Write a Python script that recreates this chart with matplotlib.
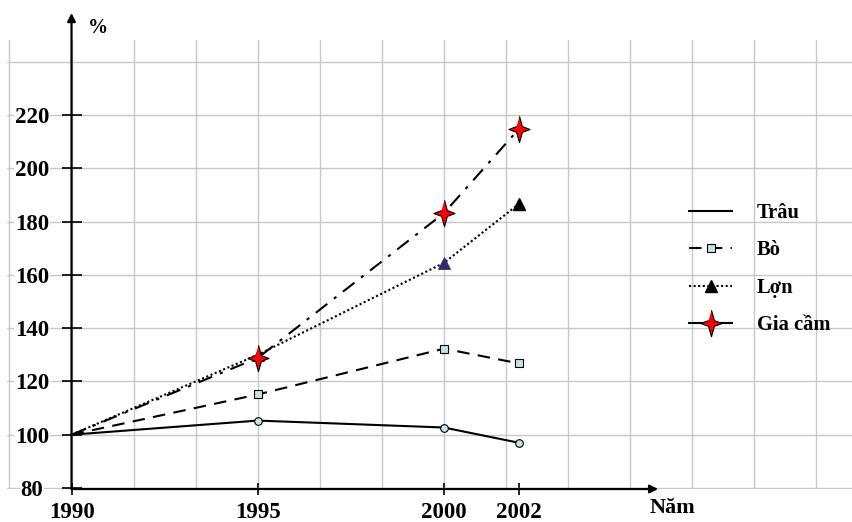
import matplotlib
matplotlib.use("Agg")
import matplotlib.pyplot as plt
from matplotlib.lines import Line2D
from matplotlib.ticker import FixedLocator, MultipleLocator

plt.rcParams['font.family'] = ['Liberation Serif', 'DejaVu Serif']
plt.rcParams['font.weight'] = 'bold'

# Data (index, 1990 = 100)
years = [1990, 1995, 2000, 2002]
trau = [100, 105.3, 102.7, 97.0]
bo = [100, 115.1, 132.3, 126.8]
lon = [100, 130.0, 164.5, 186.5]
gia_cam = [100, 128.8, 183.2, 214.6]
labels = ["Trâu", "Bò", "Lợn", "Gia cầm"]
x_ticks = [1990, 1995, 2000, 2002]
y_ticks = [80, 100, 120, 140, 160, 180, 200, 220]

fig = plt.figure(figsize=(8.53, 5.22), dpi=100)
ax = fig.add_axes([7 / 853, 33 / 522, 846 / 853, 449 / 522])
ax.set_xlim(1988.268, 2010.98)
ax.set_ylim(79.62, 248.15)

for s in ax.spines.values():
    s.set_visible(False)
ax.spines['left'].set_position(('data', 1990))

# grid on the major ticks (no marks, no labels): vertical every 5/3 year,
# horizontal every 20; labelled ticks are put on the minor ticks so that
# they are drawn on top of the grid
ax.xaxis.remove_overlapping_locs = False
ax.yaxis.remove_overlapping_locs = False
ax.xaxis.set_major_locator(FixedLocator([1990 + k * 5 / 3 for k in range(-1, 13)]))
ax.yaxis.set_major_locator(MultipleLocator(20))
ax.tick_params(which='major', length=0, labelbottom=False, labelleft=False)
ax.grid(which='major', color='#c8c8c8', lw=1.0)
ax.set_axisbelow(True)

ax.set_xticks(x_ticks, labels=[str(v) for v in x_ticks], minor=True)
ax.set_yticks(y_ticks, labels=[str(v) for v in y_ticks], minor=True)
ax.tick_params(axis='y', which='minor', direction='inout', length=15, width=1.2,
               pad=21, labelsize=16.5)
ax.tick_params(axis='x', which='minor', direction='inout', length=8, width=1.2,
               pad=5, labelsize=16.5)
for lab in ax.get_yticklabels(minor=True):
    lab.set_ha('center')
    lab.set_bbox(dict(facecolor='white', edgecolor='none', pad=0.5))

# axis arrows
arrow = dict(arrowstyle='-|>', color='black', lw=1.6, mutation_scale=12,
             shrinkA=0, shrinkB=0)
ax.annotate('', xy=(1990, 258.3), xytext=(1990, 79.62), arrowprops=arrow,
            annotation_clip=False)
ax.annotate('', xy=(2005.75, 79.62), xytext=(1990, 79.62), arrowprops=arrow,
            annotation_clip=False)

fig.text(98 / 853, 1 - 28 / 522, "%", ha='center', va='center', fontsize=14.5)
fig.text(673 / 853, 1 - 508 / 522, "Năm", ha='center', va='center', fontsize=16)

# 4-point star
star = [(0, 0.5), (0.11, 0.11), (0.4, 0), (0.11, -0.11),
        (0, -0.5), (-0.11, -0.11), (-0.4, 0), (-0.11, 0.11)]
face = '#c4e4e4'

ax.plot(years, trau, color='black', lw=1.5, ls='-', marker='o', ms=5.5,
        mfc=face, mec='black', mew=0.8, markevery=[1, 2, 3])
ax.plot(years, bo, color='black', lw=1.5, ls=(0, (6, 4)), marker='s', ms=5.5,
        mfc=face, mec='black', mew=0.8, markevery=[1, 2, 3])
ax.plot(years, lon, color='black', lw=1.5, ls=(0, (1, 1.2)), marker='^', ms=8.5,
        mfc='#2b2b6e', mec='#2b2b6e', mew=0.6, markevery=[1, 2])
ax.plot(years[3:], lon[3:], ls='none', marker='^', ms=8.5, mfc='black', mec='black')
ax.plot(years, gia_cam, color='black', lw=1.5, ls=(0, (7, 4, 1.5, 4)), marker=star,
        ms=19, mfc='red', mec='black', mew=0.8, markevery=[1, 2, 3])

handles = [
    Line2D([], [], color='black', lw=1.5, ls='-'),
    Line2D([], [], color='black', lw=1.5, ls=(0, (6, 4)), marker='s', ms=5.5,
           mfc=face, mec='black', mew=0.8),
    Line2D([], [], color='black', lw=1.5, ls=(0, (1, 1.2)), marker='^', ms=8.5,
           mfc='black', mec='black'),
    Line2D([], [], color='black', lw=1.5, ls='-', marker=star, ms=19,
           mfc='red', mec='black', mew=0.8),
]
ax.legend(handles, labels, loc='center left', bbox_to_anchor=(689 / 853, 1 - 269 / 522),
          bbox_transform=fig.transFigure, frameon=False, fontsize=14.8,
          handlelength=2.1, handletextpad=1.2, labelspacing=0.85, borderpad=0,
          borderaxespad=0, numpoints=1)

fig.savefig("out.png", dpi=100)
